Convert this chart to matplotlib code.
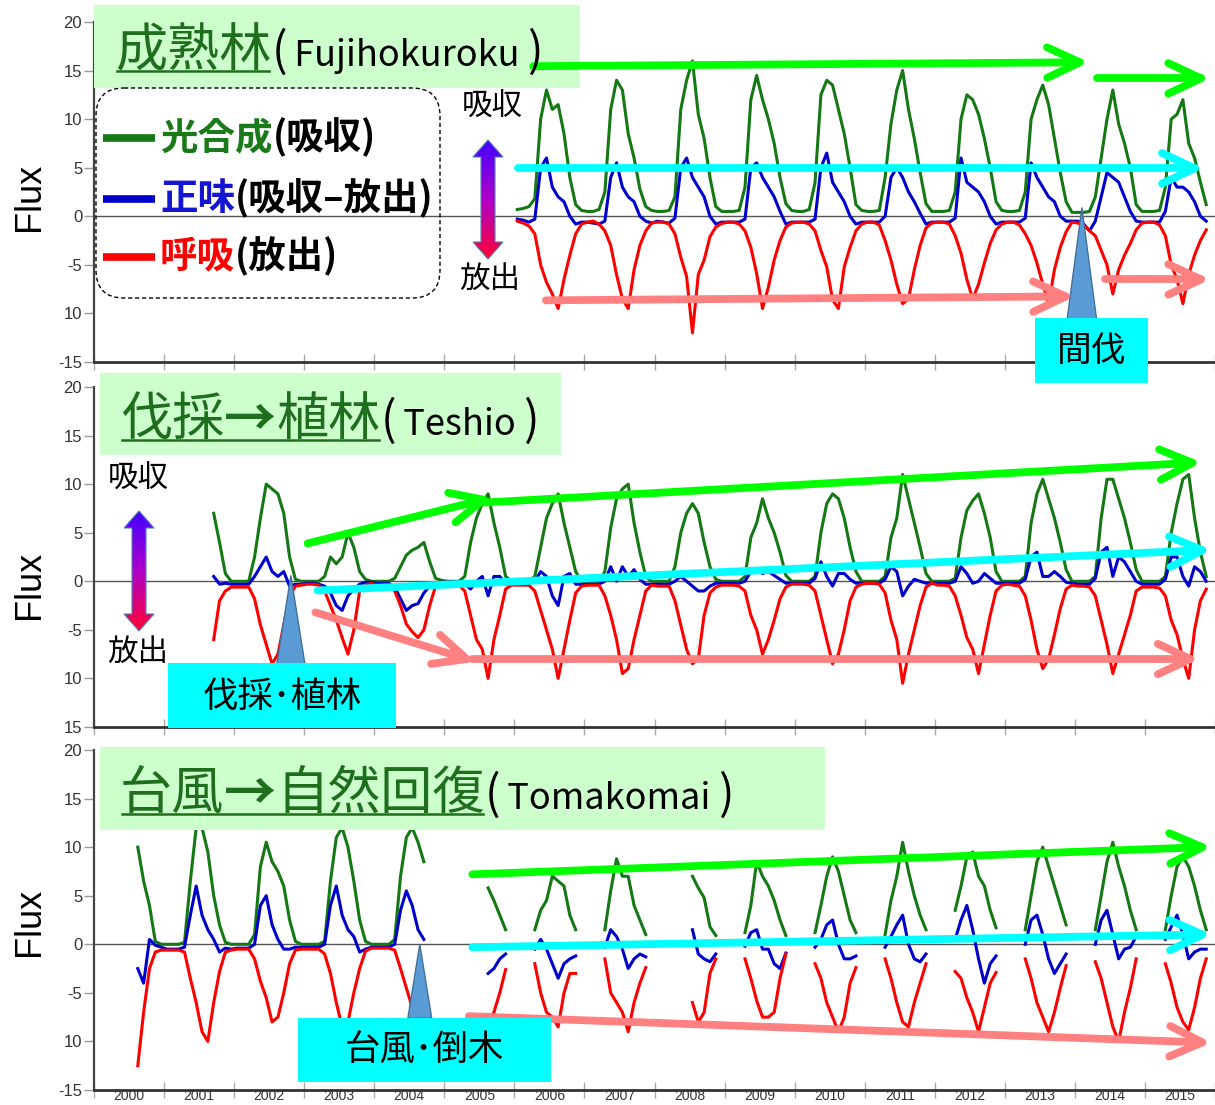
import numpy as np
import matplotlib
matplotlib.use("Agg")
import matplotlib.pyplot as plt
from matplotlib.patches import Rectangle, Polygon, FancyBboxPatch
from matplotlib.colors import LinearSegmentedColormap

W, H = 1215, 1105
JP = ["Noto Sans CJK JP", "DejaVu Sans"]
plt.rcParams["font.family"] = ["Liberation Sans", "DejaVu Sans"]

GREEN = "#147814"
BLUE = "#0000cc"
RED = "#ff0000"

# monthly fluxes, one row per year (Jan..Dec), None = no data
# Fujihokuroku, from 2006
gpp_fuji = [
    [0.7, 0.8, 1.0, 1.8, 10, 13, 11, 11.5, 8.5, 4, 1.2, 0.6],
    [0.5, 0.5, 0.7, 2.5, 11, 14, 13, 8.5, 6, 2.8, 1, 0.6],
    [0.5, 0.5, 0.6, 2, 11, 14, 16, 10.5, 8, 4, 1, 0.5],
    [0.5, 0.5, 0.6, 3, 12, 14.5, 12, 10, 7.5, 4, 1.3, 0.6],
    [0.5, 0.5, 0.7, 3.5, 12.5, 14, 13.5, 11, 8.5, 5, 1.2, 0.6],
    [0.5, 0.5, 0.6, 4, 9.5, 13, 15, 11, 8, 4.5, 1.3, 0.5],
    [0.5, 0.5, 0.6, 2.5, 10, 12.5, 12, 10.5, 8, 5, 1.5, 0.6],
    [0.5, 0.5, 0.6, 2.5, 10, 12, 13.5, 11.5, 8, 4.5, 1.5, 0.4],
    [0.4, 0.4, 0.5, 2, 6, 10, 13, 9.5, 7.5, 5, 1.2, 0.5],
    [0.5, 0.5, 0.6, 3, 10, 10.5, 12, 7.5, 6, 3.5, 1.2],
]
re_fuji = [
    [-0.5, -0.7, -1.0, -1.8, -5, -6.8, -8, -9.5, -6.5, -4, -1.8, -0.8],
    [-0.6, -0.5, -0.8, -1.5, -3, -6, -8.5, -9.5, -5.5, -3, -1.5, -0.7],
    [-0.6, -0.6, -0.8, -1.8, -4.2, -6.2, -12, -6, -4.5, -2.1, -1.1, -0.75],
    [-0.6, -0.6, -0.8, -1.5, -3.2, -5.9, -9.5, -7.3, -4.5, -2.5, -1.1, -0.7],
    [-0.6, -0.6, -0.8, -1.5, -3.5, -5.2, -8.6, -9.5, -5.2, -3.2, -1.5, -0.8],
    [-0.6, -0.6, -0.9, -2.5, -4.5, -7, -9, -8.5, -5.5, -3, -1.2, -0.7],
    [-0.6, -0.6, -0.8, -2, -3.8, -6.5, -8.5, -7, -4.8, -2.8, -1.4, -0.8],
    [-0.6, -0.6, -0.9, -1.8, -3, -4.8, -7, -9, -5.5, -3.2, -1.6, -0.6],
    [-0.7, -0.9, -1.5, -2, -3.5, -5, -8, -5.5, -4, -2.8, -1.4, -0.7],
    [-0.6, -0.6, -0.9, -2, -5, -6.5, -9, -6, -4, -2.5, -1.4],
]
nee_fuji = [
    [-0.3, -0.4, -0.6, -0.3, 5, 6, 3, 2, 1.5, 0, -0.8, -0.6],
    [-0.6, -0.7, -0.8, -0.5, 4, 5.5, 3, 2, 1.5, 0, -0.5, -0.7],
    [-0.5, -0.6, -0.7, -0.2, 5, 6, 4, 3, 2, 0, -0.8, -0.6],
    [-0.6, -0.6, -0.6, -0.3, 5, 5.5, 4, 3, 2, 0.5, -0.8, -0.6],
    [-0.6, -0.6, -0.6, -0.3, 5, 6.5, 3.5, 2.5, 1.5, 0, -0.8, -0.6],
    [-0.6, -0.6, -0.6, 0, 4, 5, 4, 2.5, 1.5, 0.3, -0.8, -0.6],
    [-0.6, -0.6, -0.6, -0.2, 6, 3.5, 3, 2.5, 1.5, 0, -0.8, -0.6],
    [-0.6, -0.6, -0.6, -0.2, 5.5, 4, 3, 2, 1.5, 0, -0.5, -0.5],
    [-0.5, -0.8, -1.5, -0.5, 2, 4.5, 4, 3.5, 2, 0.5, -0.5, -0.6],
    [-0.6, -0.6, -0.6, 0.5, 4, 3, 3, 2.5, 1.5, 0, -0.5],
]

# Teshio, from 2001
N8 = [None] * 8
gpp_teshio = [
    N8 + [7, 4, 0.8, 0],
    [0, 0, 0, 2.5, 6.5, 10, 9.5, 9, 7, 2.5, 0.2, 0],
    [0, 0, 0, 0.5, 2.5, 1.8, 2.5, 5, 3.5, 1, 0.2, 0],
    [0, 0, 0, 0.3, 1.5, 2.7, 3.2, 3.5, 4, 2, 0.3, 0.1],
    [0, 0, 0, 0.5, 4, 6.5, 8, 9, 6, 3.5, 0.5, 0],
    [0, 0, 0, 0.5, 3.5, 6.5, 8, 9, 6, 3.5, 1, 0],
    [0, 0, 0, 1, 5.5, 8.5, 9.5, 10, 6, 3, 0.5, 0],
    [0, 0, 0, 1.5, 5, 7, 8, 7, 4, 1.5, 0.2, 0],
    [0, 0, 0, 0.5, 4.5, 6, 8.5, 6.5, 5, 3, 0.6, 0],
    [0, 0, 0, 0.5, 5, 8, 9, 8.5, 6.5, 3.5, 1, 0],
    [0, 0, 0, 0.5, 4.5, 6.5, 11, 8.5, 6, 3.5, 0.8, 0],
    [0, 0, 0, 0.3, 4.5, 7.3, 8.3, 9, 7, 4.5, 1, 0],
    [0, 0, 0, 0.5, 6, 9, 10.5, 8.5, 6.5, 4, 1.2, 0],
    [0, 0, 0, 0.5, 6.5, 10.5, 10.5, 8.5, 6.5, 4, 1.2, 0],
    [0, 0, 0, 0.5, 5, 8, 10.5, 11, 6.5, 3, 0.5],
]
re_teshio = [
    N8 + [-6, -2, -1, -0.6],
    [-0.6, -0.6, -0.6, -1.8, -4.5, -6.5, -8.5, -7.5, -4.5, -1.5, -0.5, -0.4],
    [-0.3, -0.3, -0.4, -1, -2.5, -4, -5.8, -7.5, -5, -1, -0.4, -0.2],
    [-0.4, -0.4, -0.4, -1, -2.5, -4.4, -5.2, -5.8, -5, -2.5, -0.5, -0.3],
    [-0.3, -0.3, -0.4, -1, -3.5, -6, -7, -10, -6, -3.5, -0.8, -0.4],
    [-0.4, -0.4, -0.4, -1, -3, -5, -7, -10, -7, -4, -1.2, -0.5],
    [-0.4, -0.4, -0.4, -1.5, -3.5, -6, -9.5, -9, -6, -3.5, -1, -0.4],
    [-0.5, -0.5, -0.5, -2, -4.5, -7, -8.5, -8, -3.5, -1.2, -0.6, -0.4],
    [-0.4, -0.4, -0.5, -1, -3.5, -5, -7.5, -6, -4, -1.8, -0.6, -0.3],
    [-0.3, -0.3, -0.4, -1, -3.5, -6, -8.5, -7.5, -5, -2, -0.6, -0.3],
    [-0.2, -0.2, -0.3, -1.2, -4, -6, -10.5, -7.5, -5, -2.5, -0.6, -0.2],
    [-0.4, -0.4, -0.5, -1.5, -3.5, -5.8, -7, -9.5, -6.5, -3.5, -1, -0.4],
    [-0.3, -0.4, -0.5, -1.5, -4, -7, -9, -8, -5.5, -2.8, -0.8, -0.4],
    [-0.5, -0.5, -0.6, -1.5, -4, -6.5, -9.5, -7.5, -5.5, -3.5, -1, -0.6],
    [-0.6, -0.6, -0.7, -1.5, -4, -5.5, -8, -10, -5, -2, -0.8],
]
nee_teshio = [
    N8 + [0.5, -0.3, -0.2, -0.3],
    [-0.3, -0.3, -0.3, 0.5, 1.5, 2.5, 1, 0.5, 1, -0.5, -0.3, -0.3],
    [-0.2, -0.2, -0.3, -0.5, -1.2, -2.5, -3, -1.5, -0.8, -0.3, -0.1, -0.1],
    [-0.2, -0.2, -0.2, -0.6, -1.8, -3, -2.5, -2.3, -1.2, -0.5, -0.2, -0.1],
    [-0.1, -0.1, -0.1, -0.3, -0.8, 0, 0.5, -1.5, 0.5, 0.5, -0.3, -0.2],
    [-0.2, -0.2, -0.2, 0, 1, 0.5, -1.5, -2.5, 0.5, 0.8, -0.3, -0.3],
    [-0.3, -0.3, -0.3, 0, 1.5, 0, 1.5, 0.5, 1.2, 0.2, -0.3, -0.3],
    [-0.3, -0.3, -0.3, 0, 0.5, 0, -0.5, -1, -1, -0.5, -0.2, -0.2],
    [-0.2, -0.2, -0.2, 0, 1, 1.2, 0.8, 1, 0.6, 0.2, -0.2, -0.2],
    [-0.2, -0.2, -0.2, 0.3, 2, 0.5, -0.5, 0.8, 0.8, 0.2, -0.2, -0.2],
    [-0.2, -0.2, -0.2, 0.2, 1.5, 1, -1.5, -0.5, 0.2, 0, -0.2, -0.2],
    [-0.2, -0.2, -0.2, 0, 1.5, 0.8, -0.2, 0, 0.8, 0.3, -0.2, -0.2],
    [-0.2, -0.2, -0.2, 0.2, 2.5, 3, 0.5, 0.5, 1, 0.5, -0.1, -0.2],
    [-0.3, -0.3, -0.3, 0.3, 3, 3.5, 0.5, 2.5, 2, 1, 0, -0.3],
    [-0.3, -0.3, -0.3, 0.2, 2.5, 2.5, 0.5, -0.5, 1.5, 1, 0],
]

# Tomakomai, from 2000
N3, N6, N7 = [None] * 3, [None] * 6, [None] * 7
gpp_toma = [
    N7 + [10, 6.5, 4, 0.3, 0],
    [0, 0, 0, 0.2, 6.5, 12, 12, 9.5, 5, 2, 0.2, 0],
    [0, 0, 0, 1, 8, 10.5, 8.5, 7.5, 6, 2.5, 0.3, 0],
    [0, 0, 0, 0.3, 6.5, 11, 12, 10, 6.5, 2.5, 0.3, 0],
    [0, 0, 0, 0.5, 7, 11, 12, 10.5, 8.5] + N3,
    N7 + [5.8, 4.5, 3, 1.5, None],
    N3 + [1.5, 3.5, 4.5, 7, 6.5, 6, 3, 1.5, None],
    N3 + [1.5, 5.5, 8.8, 7, 7, 4, 2.5, 1.0, None],
    N6 + [7, 5.8, 4.8, 1.8, 0.9, None],
    N3 + [1.2, 4, 8.5, 7, 6, 4.5, 2.5, 0.9, None],
    N3 + [1.2, 4, 7, 9, 7.5, 5, 2.5, 1.2, None],
    N3 + [1, 4.5, 7, 10.5, 7.5, 5, 3, 1.5, None],
    N3 + [3.5, 6, 9, 9.5, 7, 6, 3.5, 1.7, None],
    N3 + [1.5, 5, 8.5, 10, 8, 6, 4, 2, None],
    N3 + [1.5, 5, 8.5, 10.5, 8, 6, 3.5, 1.5, None],
    N3 + [1.5, 5, 8, 9, 8, 6, 3.5, 1.5],
]
re_toma = [
    N7 + [-12.5, -7, -2.5, -0.8, -0.6],
    [-0.6, -0.6, -0.6, -0.8, -3.5, -6, -9, -10, -6, -2.8, -0.8, -0.6],
    [-0.5, -0.5, -0.5, -1.5, -3.8, -5.5, -8, -7.5, -5, -2, -0.6, -0.5],
    [-0.5, -0.5, -0.5, -1, -3, -6, -8.5, -8, -5, -2.5, -0.7, -0.4],
    [-0.4, -0.4, -0.4, -0.6, -2.5, -4.5, -6.5, -8.5, -8] + N3,
    N7 + [-8, -7, -5, -2.6, None],
    N3 + [-2, -5, -7, -7.5, -8.5, -5, -3, -3, None],
    N3 + [-1.5, -5, -6, -7, -9, -6, -4, -2.4, None],
    N6 + [-6, -8, -7, -3, -1.5, None],
    N3 + [-1.5, -3.5, -5.8, -7.5, -7.5, -7, -3.5, -1, None],
    N3 + [-2, -3.5, -6, -7.5, -9, -7.5, -4, -2.4, None],
    N3 + [-1.5, -3.5, -6, -8, -8.5, -6, -4, -2, None],
    N3 + [-2.8, -3.5, -5.5, -7, -9, -6.5, -4, -2.9, None],
    N3 + [-1.5, -3.5, -6, -7.5, -9, -7, -4.5, -2.2, None],
    N3 + [-1.8, -3.5, -6, -8.5, -10, -7, -4.5, -1.5, None],
    N3 + [-2, -4, -6.5, -8, -8.8, -6.5, -3.5, -1.5],
]
nee_toma = [
    N7 + [-2.5, -4, 0.5, -0.1, -0.3],
    [-0.5, -0.5, -0.5, -0.3, 3, 6, 3, 1.5, 0.5, -0.8, -0.4, -0.5],
    [-0.4, -0.4, -0.4, 0, 4, 5, 2, 0.5, -0.5, -0.5, -0.3, -0.3],
    [-0.3, -0.3, -0.3, 0, 4, 6, 3, 1.5, 0.8, -0.8, -0.5, -0.3],
    [-0.3, -0.3, -0.3, 0, 3.5, 5.5, 4, 1.5, 0.5] + N3,
    N7 + [-3, -2.5, -1.5, -1, None],
    N3 + [-0.5, 0.5, -0.5, -2, -3.5, -2, -1.5, -1.2, None],
    N3 + [-0.3, 1.5, 0.8, -0.5, -2.5, -1.5, -1, -1.3, None],
    N6 + [1.5, -1, -1.5, -1.8, -1, None],
    N3 + [-0.2, 1.2, 1.5, -0.5, -0.5, -2, -2.5, -0.9, None],
    N3 + [-0.3, 0.5, 2, 2.5, 0, -1.5, -1.5, -1.2, None],
    N3 + [-0.3, 0.8, 2, 3, 0, -1.5, -1.8, -1, None],
    N3 + [0.5, 2.5, 4, 1.5, -1.5, -4, -2, -1.2, None],
    N3 + [0, 2.5, 3, 1, -1.5, -3, -2, -1, None],
    N3 + [0, 2.5, 3.5, 1, -1.5, -0.5, -0.3, 0.8, None],
    N3 + [0.5, 1.8, 3, 1, -1.5, -0.8, -0.5, -0.5],
]

years = [str(y) for y in range(2000, 2016)]
yticks = [20, 15, 10, 5, 0, -5, -10, -15]
ylabels_a = ["20", "15", "10", "5", "0", "-5", "10", "-15"]
ylabels_b = ["20", "15", "10", "5", "0", "-5", "10", "15"]

fig = plt.figure(figsize=(W / 100, H / 100), dpi=100)
x_end = 2000 + (W - 94) / 70.8


def make_panel(top, bot, labels, show_years):
    ax = fig.add_axes([94 / W, 1 - bot / H, (W - 94) / W, (bot - top) / H])
    ax.set_xlim(2000, x_end)
    ax.set_ylim(-15, 20)
    ax.patch.set_alpha(0)
    ax.spines["top"].set_visible(False)
    ax.spines["right"].set_visible(False)
    ax.spines["left"].set_color("#444444")
    ax.spines["left"].set_linewidth(1.6)
    ax.spines["bottom"].set_color("#333333")
    ax.spines["bottom"].set_linewidth(2.0)
    ax.axhline(0, color="#555555", lw=1.0, zorder=1)
    ax.set_yticks(yticks)
    ax.set_yticklabels(labels, fontsize=12, color="#333333")
    ax.tick_params(axis="y", direction="out", length=7, width=1, color="#999999", pad=1.5)
    ax.set_xticks(np.arange(2000, 2017))
    ax.set_xticklabels([])
    ax.tick_params(axis="x", which="major", direction="inout", length=11, width=1, color="#aaaaaa")
    if show_years:
        ax.set_xticks(np.arange(2000, 2016) + 0.5, minor=True)
        ax.set_xticklabels(years, minor=True, fontsize=10, color="#333333")
        ax.tick_params(axis="x", which="minor", length=0, pad=-1)
    return ax


def draw_series(ax, start, gpp, nee, re):
    for rows, col in ((gpp, GREEN), (nee, BLUE), (re, RED)):
        vals = np.array(sum(rows, []), dtype=float)
        t = start + (np.arange(len(vals)) + 0.5) / 12
        ax.plot(t, vals, color=col, lw=2.2, solid_joinstyle="round", zorder=3)


ax1 = make_panel(22, 362, ylabels_a, False)
ax2 = make_panel(387, 727, ylabels_b, False)
ax3 = make_panel(750, 1090, ylabels_a, True)
draw_series(ax1, 2006, gpp_fuji, nee_fuji, re_fuji)
draw_series(ax2, 2001, gpp_teshio, nee_teshio, re_teshio)
draw_series(ax3, 2000, gpp_toma, nee_toma, re_toma)

# overlay in pixel units for boxes, labels and arrows
ov = fig.add_axes([0, 0, 1, 1])
ov.set_xlim(0, W)
ov.set_ylim(H, 0)
ov.axis("off")
ov.patch.set_alpha(0)
renderer = fig.canvas.get_renderer()


def to_px(ax, x, y):
    d = ax.transData.transform((x, y))
    return ov.transData.inverted().transform(d)


def run_text(x, y, parts):
    # parts: (text, color, size, weight), laid out one after another
    inv = ov.transData.inverted()
    spans = []
    for s, c, size, weight in parts:
        t = ov.text(x, y, s, color=c, fontsize=size, fontweight=weight, family=JP,
                    ha="left", va="baseline", zorder=8)
        bb = t.get_window_extent(renderer=renderer)
        x0 = inv.transform((bb.x0, bb.y0))[0]
        x1 = inv.transform((bb.x1, bb.y0))[0]
        spans.append((x0, x1))
        x = x1
    return spans


def trend(ax, p0, p1, color, lw=5.6, arm=36, spread=25):
    x0, y0 = to_px(ax, *p0)
    x1, y1 = to_px(ax, *p1)
    ang = np.arctan2(y1 - y0, x1 - x0)
    ov.plot([x0, x1], [y0, y1], color=color, lw=lw, solid_capstyle="round", zorder=4)
    a1 = ang + np.pi - np.radians(spread)
    a2 = ang + np.pi + np.radians(spread)
    ov.plot([x1 + arm * np.cos(a1), x1, x1 + arm * np.cos(a2)],
            [y1 + arm * np.sin(a1), y1, y1 + arm * np.sin(a2)],
            color=color, lw=lw, solid_capstyle="round", solid_joinstyle="round", zorder=4)


def marker(ax, x, y_top, y_base, half):
    tip = to_px(ax, x, y_top)
    bl = to_px(ax, x - half, y_base)
    br = to_px(ax, x + half, y_base)
    ov.add_patch(Polygon([tip, bl, br], closed=True, facecolor="#5b9bd5",
                         edgecolor="#41719c", lw=1, zorder=5))


grad_cmap = LinearSegmentedColormap.from_list("updown", ["#4400ff", "#b000c8", "#ff0033"])


def grad_arrow(cx, y_top, y_bot, hw=15, sw=7, hl=17):
    verts = [(cx, y_top), (cx + hw, y_top + hl), (cx + sw, y_top + hl),
             (cx + sw, y_bot - hl), (cx + hw, y_bot - hl), (cx, y_bot),
             (cx - hw, y_bot - hl), (cx - sw, y_bot - hl), (cx - sw, y_top + hl),
             (cx - hw, y_top + hl)]
    poly = Polygon(verts, closed=True, facecolor="none", edgecolor="#4f7fb8", lw=0.8, zorder=6)
    ov.add_patch(poly)
    img = ov.imshow(np.linspace(0, 1, 200).reshape(-1, 1), cmap=grad_cmap,
                    extent=(cx - hw, cx + hw, y_bot, y_top), aspect="auto",
                    interpolation="bilinear", zorder=5)
    img.set_clip_path(poly)


# title boxes
for (x0, y0, x1, y1) in [(94, 5, 580, 88), (100, 373, 561, 455), (100, 747, 825, 830)]:
    ov.add_patch(Rectangle((x0, y0), x1 - x0, y1 - y0, facecolor="#ccffcc",
                           edgecolor="none", zorder=2))

TGREEN = "#1e6e1e"
TS = 37.5
titles = [
    (115, 66, [("成熟林", TGREEN, TS, "normal")], "Fujihokuroku"),
    (120, 435, [("伐採", TGREEN, TS, "normal"), ("→", TGREEN, TS, "bold"),
                ("植林", TGREEN, TS, "normal")], "Teshio"),
    (120, 809, [("台風", TGREEN, TS, "normal"), ("→", TGREEN, TS, "bold"),
                ("自然回復", TGREEN, TS, "normal")], "Tomakomai"),
]
for x, y, jp_parts, site in titles:
    site_parts = [("(", "black", 33, "normal"), ("\u2009" + site + "\u2009", "black", 26, "normal"),
                  (")", "black", 33, "normal")]
    sp = run_text(x, y, jp_parts + site_parts)
    ux1 = sp[len(jp_parts) - 1][1]
    ov.plot([sp[0][0] + 2, ux1 - 2], [y + 5, y + 5], color=TGREEN, lw=1.8, zorder=8)

# legend
ov.add_patch(FancyBboxPatch((96, 88), 344, 210, boxstyle="round,pad=0,rounding_size=28",
                            facecolor="none", edgecolor="black", lw=1,
                            linestyle=(0, (3, 2)), zorder=6))
LS = 27
legend_rows = [
    (138, GREEN, [("光合成", "#1a7a1a", LS, "bold"), ("(吸収)", "black", LS, "bold")]),
    (199, BLUE, [("正味", "#1414d2", LS, "bold"), ("(吸収–放出)", "black", LS, "bold")]),
    (257, RED, [("呼吸", RED, LS, "bold"), ("(放出)", "black", LS, "bold")]),
]
for y, col, parts in legend_rows:
    ov.plot([103, 155], [y, y], color=col, lw=5.5, solid_capstyle="butt", zorder=7)
    run_text(160, y + 11, parts)

# up/down gradient arrows
grad_arrow(488, 140, 259)
ov.text(492, 107, "吸収", family=JP, fontsize=22, ha="center", va="center", zorder=8)
ov.text(490, 279, "放出", family=JP, fontsize=22, ha="center", va="center", zorder=8)
grad_arrow(139, 511, 631)
ov.text(138, 479, "吸収", family=JP, fontsize=22, ha="center", va="center", zorder=8)
ov.text(138, 652, "放出", family=JP, fontsize=22, ha="center", va="center", zorder=8)

# trend arrows
LIME, CYAN, PINK = "#00ff00", "#00ffff", "#ff8080"
trend(ax1, (2006.27, 15.45), (2014.07, 15.85), LIME)
trend(ax1, (2014.32, 14.2), (2015.80, 14.2), LIME)
trend(ax1, (2006.05, 4.94), (2015.71, 4.94), CYAN)
trend(ax1, (2006.45, -8.65), (2013.87, -8.25), PINK)
trend(ax1, (2014.43, -6.5), (2015.80, -6.5), PINK)

trend(ax2, (2003.05, 3.9), (2005.56, 8.4), LIME)
trend(ax2, (2005.56, 8.1), (2015.68, 12.2), LIME)
trend(ax2, (2003.19, -0.95), (2015.82, 3.2), CYAN)
trend(ax2, (2003.16, -3.2), (2005.32, -8.0), PINK)
trend(ax2, (2005.40, -8.0), (2015.65, -8.0), PINK)

trend(ax3, (2005.40, 7.2), (2015.82, 10.0), LIME)
trend(ax3, (2005.40, -0.3), (2015.82, 1.0), CYAN)
trend(ax3, (2005.35, -7.4), (2015.82, -10.1), PINK)

# disturbance markers and labels
marker(ax1, 2014.10, 0.9, -10.6, 0.21)
marker(ax2, 2002.81, 0.6, -8.5, 0.2)
marker(ax3, 2004.65, 0.0, -7.6, 0.17)
events = [
    ((1035, 318, 1148, 383), "間伐", 25),
    ((168, 663, 396, 728), "伐採･植林", 25.5),
    ((298, 1018, 551, 1082), "台風･倒木", 25.5),
]
for (x0, y0, x1, y1), label, fs in events:
    ov.add_patch(Rectangle((x0, y0), x1 - x0, y1 - y0, facecolor="#00ffff",
                           edgecolor="none", zorder=6))
    ov.text((x0 + x1) / 2, (y0 + y1) / 2 + 1, label, family=JP, fontsize=fs,
            ha="center", va="center", zorder=8)

# y-axis titles
for yc in (197, 585, 922):
    ov.text(30, yc, "Flux", fontsize=26, rotation=90, ha="center", va="center", zorder=8)

ov.set_xlim(0, W)
ov.set_ylim(H, 0)

fig.savefig("out.png", dpi=100)
